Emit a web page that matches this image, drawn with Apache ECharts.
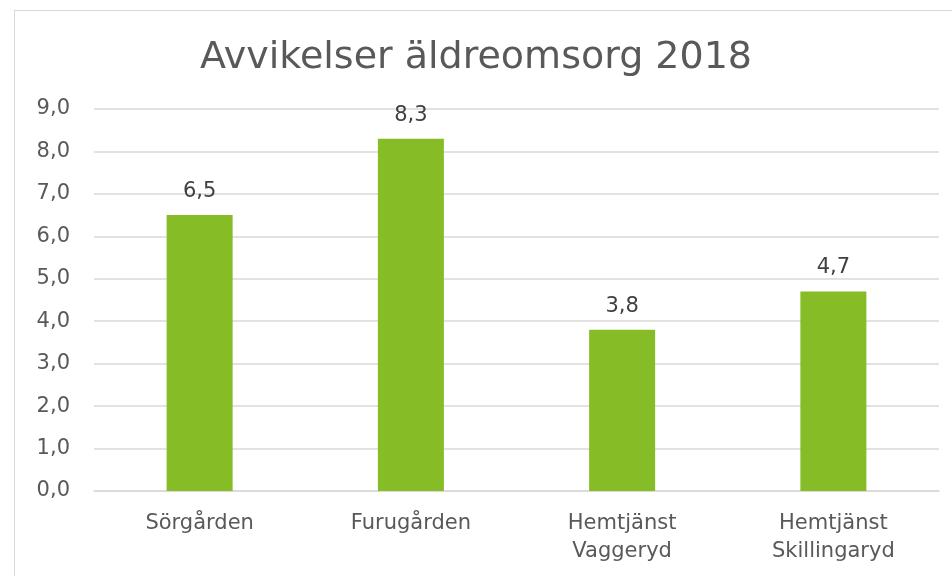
<!DOCTYPE html>
<html><head><meta charset="utf-8">
<script src="https://cdn.jsdelivr.net/npm/echarts@6/dist/echarts.min.js"></script>
<style>
html,body{margin:0;padding:0;background:#fff;overflow:hidden;}
#frame{position:absolute;left:14px;top:10px;width:1000px;height:700px;border:1px solid #d9d9d9;box-sizing:border-box;}
#chart{position:absolute;left:0;top:0;width:952px;height:576px;}
</style></head>
<body>
<div id="frame"></div>
<div id="chart"></div>
<script>
const titleText = 'Avvikelser äldreomsorg 2018';
const categories = ['Sörgården', 'Furugården', 'Hemtjänst\nVaggeryd', 'Hemtjänst\nSkillingaryd'];
const values = [6.5, 8.3, 3.8, 4.7];
const fmt = v => v.toFixed(1).replace('.', ',');
const chart = echarts.init(document.getElementById('chart'), null, {renderer:'canvas'});
chart.setOption({
  backgroundColor: 'transparent',
  animation: false,
  textStyle: {fontFamily: 'DejaVu Sans'},
  title: {text: titleText, left: 'center', top: 34,
    textStyle: {fontFamily: 'DejaVu Sans', fontSize: 38, fontWeight: 'normal', color: '#595959'}},
  grid: {left: 94, right: 13, top: 109, bottom: 85, containLabel: false},
  xAxis: {type: 'category', data: categories,
    axisLine: {show: true, lineStyle: {color: '#d9d9d9', width: 1.5}},
    axisTick: {show: false},
    axisLabel: {color: '#595959', fontSize: 21, margin: 19, lineHeight: 28}},
  yAxis: {type: 'value', min: 0, max: 9, interval: 1,
    axisLine: {show: false}, axisTick: {show: false},
    splitLine: {lineStyle: {color: '#d9d9d9', width: 1.5}},
    axisLabel: {color: '#595959', fontSize: 21, margin: 24, formatter: v => fmt(v)}},
  series: [{type: 'bar', data: values, barWidth: 66,
    itemStyle: {color: '#86BC25'},
    label: {show: true, position: 'top', distance: 13, color: '#404040', fontSize: 21,
      formatter: p => fmt(p.value)}}]
});
</script>
</body></html>
